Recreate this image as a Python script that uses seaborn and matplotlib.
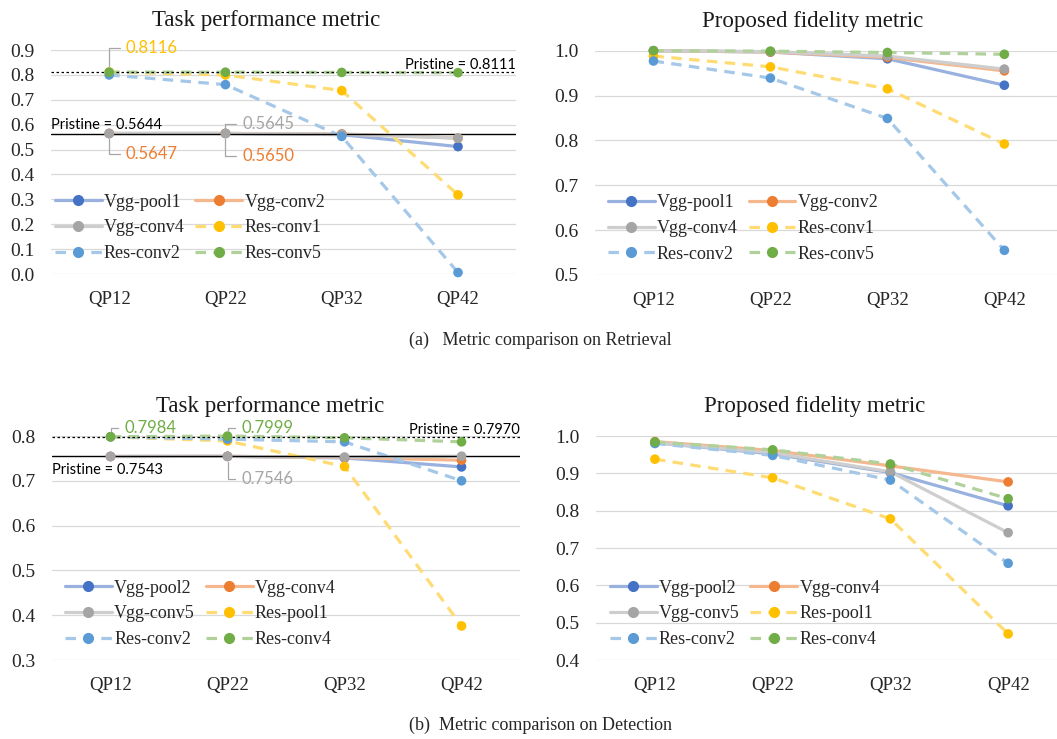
import numpy as np
import pandas as pd
import matplotlib
matplotlib.use("Agg")
import matplotlib.pyplot as plt
import matplotlib.colors as mcolors
from matplotlib.lines import Line2D
import seaborn as sns

sns.set_theme(style="white")
plt.rcParams['font.family'] = ['Liberation Serif', 'DejaVu Serif']

# --- DATA ---
qp = ["QP12", "QP22", "QP32", "QP42"]

ret_names = ["Vgg-pool1", "Vgg-conv2", "Vgg-conv4", "Res-conv1", "Res-conv2", "Res-conv5"]
ret_task = [
    [0.5647, 0.5650, 0.560, 0.512],
    [0.5647, 0.5650, 0.563, 0.546],
    [0.5645, 0.5645, 0.562, 0.546],
    [0.8116, 0.800, 0.737, 0.318],
    [0.800, 0.761, 0.553, 0.006],
    [0.811, 0.811, 0.810, 0.809],
]
ret_fid = [
    [1.000, 0.997, 0.982, 0.923],
    [1.000, 0.997, 0.985, 0.955],
    [1.000, 0.998, 0.988, 0.959],
    [0.988, 0.964, 0.915, 0.792],
    [0.977, 0.939, 0.849, 0.555],
    [1.000, 0.999, 0.996, 0.992],
]
ret_pristine = [0.8111, 0.5644]

det_names = ["Vgg-pool2", "Vgg-conv4", "Vgg-conv5", "Res-pool1", "Res-conv2", "Res-conv4"]
det_task = [
    [0.7543, 0.7546, 0.751, 0.731],
    [0.7543, 0.7546, 0.752, 0.746],
    [0.7543, 0.7546, 0.753, 0.755],
    [0.798, 0.789, 0.732, 0.376],
    [0.798, 0.793, 0.787, 0.700],
    [0.7984, 0.7999, 0.796, 0.787],
]
det_fid = [
    [0.982, 0.952, 0.902, 0.813],
    [0.985, 0.961, 0.920, 0.877],
    [0.982, 0.955, 0.904, 0.741],
    [0.938, 0.888, 0.778, 0.470],
    [0.980, 0.948, 0.882, 0.659],
    [0.984, 0.963, 0.925, 0.832],
]
det_pristine = [0.7970, 0.7543]

colors = ["#4472C4", "#ED7D31", "#A5A5A5", "#FFC000", "#5B9BD5", "#70AD47"]
dashed = [False, False, False, True, True, True]

# labelled points: (series index, qp index, text offset in points)
ret_labels = [(3, 0, (12, 17)), (1, 0, (12, -15)), (2, 1, (12, 7)), (1, 1, (12, -16))]
det_labels = [(5, 0, (10, 6)), (5, 1, (10, 6)), (2, 1, (10, -16))]


def light(c, a=0.55):
    r = np.array(mcolors.to_rgb(c))
    return tuple(1 - a + a * r)


def draw_panel(ax, names, vals, ylim, yticks, title, xmax, leg_x, title_x):
    df = pd.DataFrame({
        "qp": qp * len(names),
        "value": np.ravel(vals),
        "series": np.repeat(names, len(qp)),
    })
    pal_l = {n: light(c) for n, c in zip(names, colors)}
    pal_f = {n: c for n, c in zip(names, colors)}
    dsh = {n: ((3.3, 2.3) if d else "") for n, d in zip(names, dashed)}
    sns.lineplot(data=df, x="qp", y="value", hue="series", style="series",
                 palette=pal_l, dashes=dsh, linewidth=2.3, legend=False,
                 sort=False, ax=ax)
    for ln in ax.lines:
        ln.set_clip_on(False)
    sns.scatterplot(data=df, x="qp", y="value", hue="series", palette=pal_f,
                    s=48, edgecolor="none", legend=False, ax=ax, zorder=5,
                    clip_on=False)
    ax.set_xlim(-0.5, xmax)
    ax.set_ylim(*ylim)
    ax.set_yticks(yticks)
    ax.set_yticklabels([f"{t:.1f}" for t in yticks])
    ax.grid(axis="y", color="#d9d9d9", lw=0.9)
    ax.grid(axis="x", visible=False)
    for s in ax.spines.values():
        s.set_visible(False)
    ax.tick_params(axis="both", length=0, colors="#262626")
    ax.tick_params(axis="y", pad=12, labelsize=14)
    ax.tick_params(axis="x", pad=12, labelsize=13.5)
    ax.set_xlabel("")
    ax.set_ylabel("")
    ax.set_title(title, fontsize=16.5, pad=17, color="#1a1a1a", x=title_x)
    handles = [Line2D([0], [0], color=light(c), lw=2.3,
                      linestyle=((0, (3.3, 2.3)) if d else "-"),
                      marker="o", markersize=7, markerfacecolor=c,
                      markeredgecolor=c)
               for c, d in zip(colors, dashed)]
    # legend fills row by row in the reference
    order = [0, 2, 4, 1, 3, 5]
    ax.legend([handles[i] for i in order], [names[i] for i in order], ncol=2,
              frameon=False, loc="upper left", bbox_to_anchor=(leg_x, 0.375),
              fontsize=13, handlelength=2.6, handletextpad=0.12,
              columnspacing=0.6, labelspacing=0.48, borderaxespad=0,
              borderpad=0.2)


def draw_labels(ax, vals, labels):
    for si, qi, off in labels:
        v = vals[si][qi]
        ax.annotate(f"{v:.4f}", xy=(qp[qi], v), xytext=off,
                    textcoords="offset points", ha="left", va="center",
                    fontsize=12, color=colors[si], family="Lato",
                    arrowprops=dict(arrowstyle="-", color="#a6a6a6", lw=0.9,
                                    shrinkA=2, shrinkB=4,
                                    connectionstyle="angle,angleA=0,angleB=90,rad=0"),
                    zorder=6)


def draw_pristine(ax, vals, lo_above, lo_offset):
    hi, lo = vals
    ax.axhline(hi, color="black", lw=0.9, ls=(0, (2, 2)), zorder=4)
    ax.axhline(lo, color="black", lw=1.0, zorder=4)
    ax.text(1.0, hi, f"Pristine = {hi:.4f}", transform=ax.get_yaxis_transform(),
            ha="right", va="bottom", fontsize=10.5, family="Lato", color="black")
    ax.annotate(f"Pristine = {lo:.4f}", xy=(0.0, lo), xycoords=ax.get_yaxis_transform(),
                xytext=(0, lo_offset), textcoords="offset points",
                ha="left", va="bottom" if lo_above else "top",
                fontsize=10.5, family="Lato", color="black")


fig = plt.figure(figsize=(10.57, 7.39), dpi=100)

ax1 = fig.add_axes([0.0483, 0.6292, 0.440, 0.3031])
draw_panel(ax1, ret_names, ret_task, (0, 0.9), np.arange(0, 0.91, 0.1),
           "Task performance metric", 3.5, 0.0, 0.462)
draw_pristine(ax1, ret_pristine, True, 1)
draw_labels(ax1, ret_task, ret_labels)

ax2 = fig.add_axes([0.5629, 0.6279, 0.4371, 0.3035])
draw_panel(ax2, ret_names, ret_fid, (0.5, 1.0), np.arange(0.5, 1.01, 0.1),
           "Proposed fidelity metric", 3.45, 0.02, 0.472)

ax3 = fig.add_axes([0.0492, 0.1069, 0.4428, 0.3031])
draw_panel(ax3, det_names, det_task, (0.3, 0.8), np.arange(0.3, 0.81, 0.1),
           "Task performance metric", 3.5, 0.02, 0.466)
draw_pristine(ax3, det_pristine, False, -5)
draw_labels(ax3, det_task, det_labels)

ax4 = fig.add_axes([0.5639, 0.1069, 0.4361, 0.3031])
draw_panel(ax4, det_names, det_fid, (0.4, 1.0), np.arange(0.4, 1.01, 0.1),
           "Proposed fidelity metric", 3.415, 0.022, 0.475)

fig.text(0.511, 1 - 340 / 739, "(a)   Metric comparison on Retrieval",
         ha="center", va="center", fontsize=13)
fig.text(0.511, 1 - 725 / 739, "(b)  Metric comparison on Detection",
         ha="center", va="center", fontsize=13)

fig.savefig("out.png", dpi=100, facecolor="white")
